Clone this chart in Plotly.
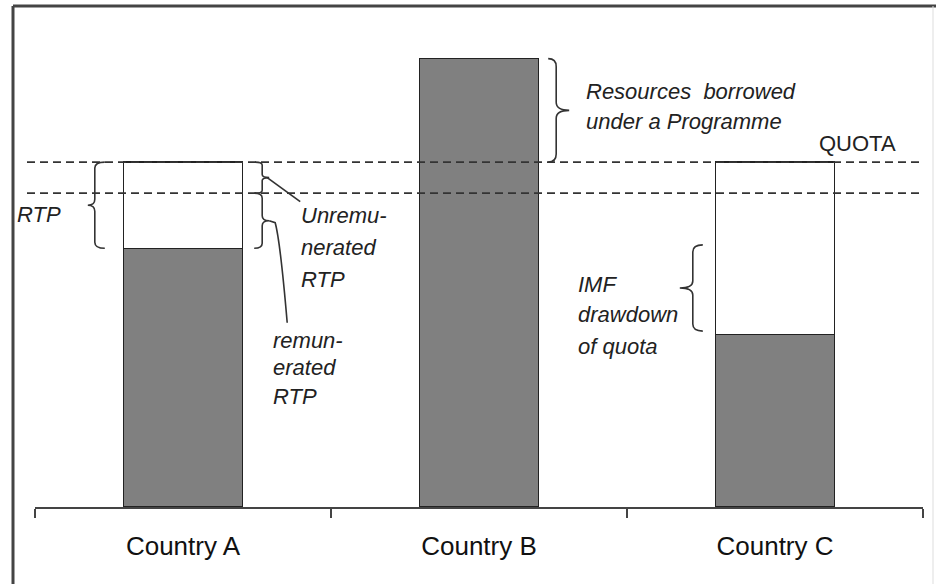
import plotly.graph_objects as go

# ---- data ----
categories = ["Country A", "Country B", "Country C"]
used_values = [75, 130, 50]          # dark (drawn) part
unused_values = [25, 0, 50]          # white part up to quota
quota = 100
remun_level = 91                     # lower dashed line
imf_brace_span = [51, 76]

# ---- layout geometry (pixels) ----
W, H = 936, 584
ML, MR, MT, MB = 35, 13, 20, 77
PW, PH = W - ML - MR, H - MT - MB
YMAX = 141.2
BAR_W = 0.40
XPX = PW / 3.0            # pixels per category unit
YPX = PH / YMAX           # pixels per y unit


def P(px, py):
    return (px - ML) / PW, (H - MB - py) / PH


def dx(px):
    return px / XPX


def dy(px):
    return px / YPX


fig = go.Figure()
fig.add_trace(go.Bar(x=categories, y=used_values, width=BAR_W,
                     marker=dict(color="#808080", line=dict(color="#222222", width=1.3)),
                     showlegend=False, hoverinfo="skip"))
fig.add_trace(go.Bar(x=categories, y=unused_values, width=BAR_W,
                     marker=dict(color="#ffffff", line=dict(color="#222222", width=1.3)),
                     showlegend=False, hoverinfo="skip"))

shapes = []
# dashed reference lines
for yv in (quota, remun_level):
    shapes.append(dict(type="line", xref="paper", yref="y",
                       x0=P(27, 0)[0], x1=P(920, 0)[0], y0=yv, y1=yv,
                       line=dict(color="#333333", width=1.6, dash="8px,5px"),
                       layer="above"))


def brace(xs, ytop, ybot, d, tip, end, h):
    ym = (ytop + ybot) / 2.0
    xe = xs - d * end
    xt = xs + d * tip
    return (f"M {xe},{ytop} Q {xs},{ytop} {xs},{ytop - h} "
            f"L {xs},{ym + h} Q {xs},{ym} {xt},{ym} "
            f"Q {xs},{ym} {xs},{ym - h} "
            f"L {xs},{ybot + h} Q {xs},{ybot} {xe},{ybot}")


bl = dict(color="#333333", width=1.6)
# Country A left brace (whole RTP)
shapes.append(dict(type="path", xref="x", yref="y", layer="above", line=bl,
                   path=brace(0 - BAR_W / 2 - dx(29), quota, used_values[0], -1, dx(7), dx(10), dy(6))))
# Country A right braces
xr = 0 + BAR_W / 2 + dx(20)
shapes.append(dict(type="path", xref="x", yref="y", layer="above", line=bl,
                   path=brace(xr, quota, remun_level, 1, dx(7), dx(7), dy(3))))
shapes.append(dict(type="path", xref="x", yref="y", layer="above", line=bl,
                   path=brace(xr, remun_level, used_values[0], 1, dx(7), dx(8), dy(5))))
# Country B brace
shapes.append(dict(type="path", xref="x", yref="y", layer="above", line=bl,
                   path=brace(1 + BAR_W / 2 + dx(18), used_values[1], quota, 1, dx(13), dx(8), dy(8))))
# Country C brace
shapes.append(dict(type="path", xref="x", yref="y", layer="above", line=bl,
                   path=brace(2 - BAR_W / 2 - dx(23), imf_brace_span[1], imf_brace_span[0], -1, dx(13), dx(10), dy(7))))

# leader lines
um = (quota + remun_level) / 2.0
shapes.append(dict(type="path", xref="x", yref="y", layer="above", line=bl,
                   path=f"M {xr + dx(5)},{um} L {xr + dx(38)},{um - dy(24)}"))
lm = (remun_level + used_values[0]) / 2.0
shapes.append(dict(type="path", xref="x", yref="y", layer="above", line=bl,
                   path=(f"M {xr + dx(7)},{lm} L {xr + dx(13)},{lm - dy(2)} "
                         f"Q {xr + dx(18)},{lm - dy(20)} {xr + dx(25)},{lm - dy(102)}")))

# frame
fx0, fy0 = P(13, 6)
fx1, _ = P(W + 2, 6)
_, fyb = P(13, H + 2)
shapes.append(dict(type="line", xref="paper", yref="paper", x0=fx0, x1=fx1, y0=fy0, y1=fy0,
                   line=dict(color="#444444", width=3)))
shapes.append(dict(type="line", xref="paper", yref="paper", x0=fx0, x1=fx0, y0=fy0, y1=fyb,
                   line=dict(color="#444444", width=3)))
rx, _ = P(933, 0)
shapes.append(dict(type="line", xref="paper", yref="paper", x0=rx, x1=rx, y0=fy0, y1=fyb,
                   line=dict(color="#dddddd", width=1)))

annotations = []
FONT = "Liberation Sans, Arial, sans-serif"


def txt(s, px, py, italic=True, size=22):
    x, y = P(px, py)
    annotations.append(dict(xref="paper", yref="paper", x=x, y=y, xanchor="left", yanchor="middle",
                            text=(f"<i>{s}</i>" if italic else s), showarrow=False,
                            font=dict(family=FONT, size=size, color="#222222")))


txt("RTP", 15, 214)
txt("Unremu-", 299, 215)
txt("nerated", 299, 248)
txt("RTP", 299, 280)
txt("remun-", 271, 340)
txt("erated", 271, 368)
txt("RTP", 271, 396)
txt("Resources  borrowed", 584, 92)
txt("under a Programme", 584, 121)
txt("QUOTA", 817, 143, italic=False)
txt("IMF", 576, 284)
txt("drawdown", 576, 315)
txt("of quota", 576, 346)

fig.update_layout(
    width=W, height=H,
    margin=dict(l=ML, r=MR, t=MT, b=MB),
    paper_bgcolor="white", plot_bgcolor="white",
    barmode="stack",
    hovermode=False,
    shapes=shapes, annotations=annotations,
    xaxis=dict(type="category", range=[-0.5, 2.5], tickson="boundaries",
               ticks="outside", ticklen=9, tickwidth=2, tickcolor="#444444",
               showline=True, linecolor="#444444", linewidth=2,
               showgrid=False, zeroline=False, ticklabelstandoff=15,
               tickfont=dict(family=FONT, size=26, color="#111111")),
    yaxis=dict(range=[0, YMAX], visible=False, showgrid=False, zeroline=False),
)

fig.write_html("out.html", config={"displayModeBar": False},
               post_script="document.body.style.margin='0';document.body.style.overflow='hidden';")
